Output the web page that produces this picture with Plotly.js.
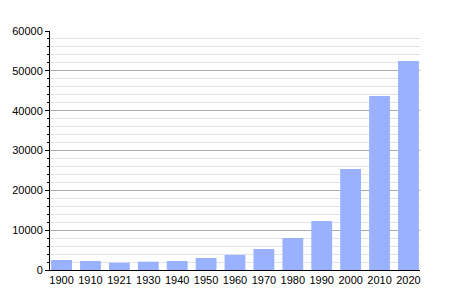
<!DOCTYPE html>
<html>
<head>
<meta charset="utf-8">
<script src="https://cdn.plot.ly/plotly-3.0.1.min.js"></script>
<style>html,body{margin:0;padding:0;background:#fff;}#chart{width:450px;height:300px;}</style>
</head>
<body>
<div id="chart"></div>
<script>
const years = ["1900","1910","1921","1930","1940","1950","1960","1970","1980","1990","2000","2010","2020"];
const population = [2510, 2260, 1840, 2090, 2260, 3010, 3800, 5270, 8030, 12300, 25350, 43700, 52450];

const trace = {
  type: "bar",
  x: years,
  y: population,
  marker: {color: "#99b1ff", line: {width: 0}},
  hoverinfo: "x+y"
};

const layout = {
  width: 450, height: 300,
  margin: {l: 50, r: 30, t: 31, b: 30},
  paper_bgcolor: "#ffffff",
  plot_bgcolor: "#ffffff",
  showlegend: false,
  bargap: 0.28,
  font: {family: "Liberation Sans, Arial, sans-serif", size: 11, color: "#000"},
  xaxis: {
    type: "category",
    range: [-0.4, 12.4],
    showline: true, linecolor: "#000", linewidth: 1,
    ticks: "", showgrid: false, zeroline: false,
    tickfont: {size: 11, color: "#000"}
  },
  yaxis: {
    range: [0, 60000],
    dtick: 10000,
    tickformat: "d",
    showline: true, linecolor: "#000", linewidth: 1,
    ticks: "outside", ticklen: 4, tickcolor: "#000",
    showgrid: true, gridcolor: "#aaaaaa", gridwidth: 1,
    zeroline: false,
    tickfont: {size: 11, color: "#000"},
    minor: {dtick: 2000, showgrid: true, gridcolor: "#e4e4e4", ticks: "outside", ticklen: 2, tickcolor: "#000"}
  }
};

Plotly.newPlot("chart", [trace], layout, {displayModeBar: false, staticPlot: true});
</script>
</body>
</html>
